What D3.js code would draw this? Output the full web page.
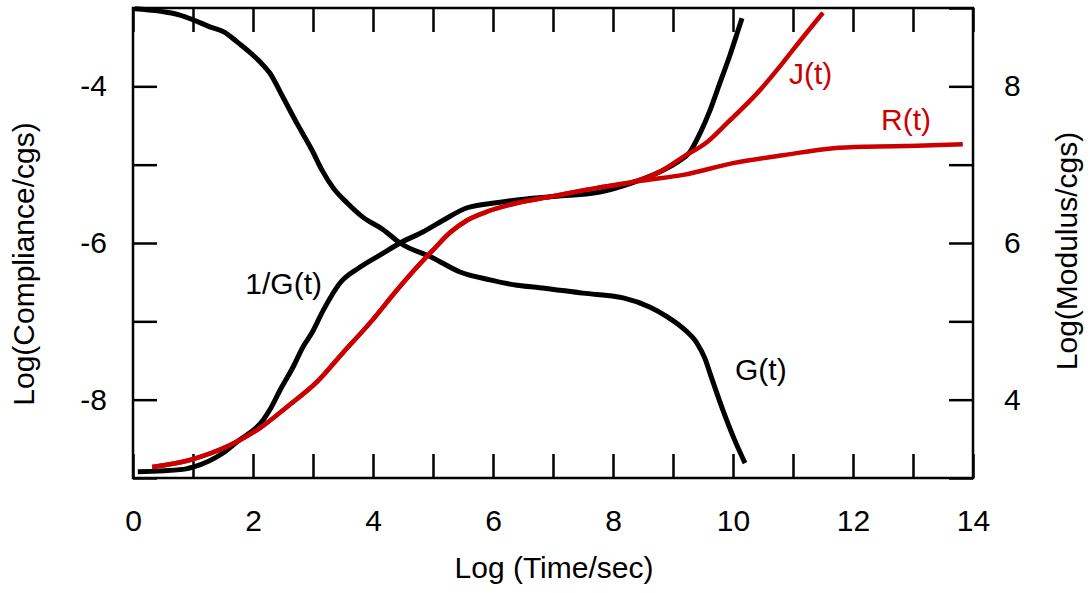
<!DOCTYPE html>
<html>
<head>
<meta charset="utf-8">
<script src="https://cdn.jsdelivr.net/npm/d3@7"></script>
<style>
  html, body { margin: 0; padding: 0; background: #fff; }
  svg { display: block; }
  text { font-family: "Liberation Sans", Arial, Helvetica, sans-serif; }
</style>
</head>
<body>
<svg id="chart" width="1090" height="593"></svg>
<script>
// ---- Data ----
const xTicks = [0,1,2,3,4,5,6,7,8,9,10,11,12,13,14];
const xTickLabels = [0,2,4,6,8,10,12,14];
const leftTicks = [-9,-8,-7,-6,-5,-4,-3];
const leftTickLabels = [-8,-6,-4];
const rightTicks = [3,4,5,6,7,8,9];
const rightTickLabels = [4,6,8];

// G(t): modulus, right axis
const gTime   = [0.03,0.78,1.0,1.28,1.53,1.73,2.12,2.28,2.5,2.73,2.98,3.15,3.33,3.57,3.83,4.17,4.45,5.0,5.45,5.95,6.4,6.78,7.5,8.17,8.62,8.9,9.17,9.4,9.53,9.62,9.83,10.03,10.2];
const gValues = [8.99,8.91,8.85,8.76,8.69,8.57,8.31,8.17,7.86,7.53,7.19,6.93,6.71,6.51,6.33,6.17,6.0,5.81,5.63,5.53,5.46,5.43,5.36,5.30,5.18,5.06,4.91,4.72,4.53,4.33,3.87,3.48,3.19];

// 1/G(t): left axis
const invGTime   = [0.08,0.83,1.0,1.5,1.73,2.17,2.28,2.45,2.67,2.83,2.98,3.17,3.45,3.78,4.17,4.45,4.83,5.17,5.57,6.12,6.4,6.95,7.78,8.33,8.73,9.07,9.28,9.45,9.62,9.78,9.95,10.07,10.15];
const invGValues = [-8.92,-8.89,-8.86,-8.68,-8.54,-8.26,-8.13,-7.88,-7.58,-7.33,-7.15,-6.86,-6.51,-6.31,-6.13,-6.0,-5.86,-5.71,-5.55,-5.48,-5.45,-5.41,-5.35,-5.23,-5.11,-4.97,-4.84,-4.60,-4.30,-3.96,-3.60,-3.32,-3.13];

// J(t): compliance, left axis
const jTime   = [0.32,0.95,1.62,2.12,2.57,3.07,3.5,3.95,4.4,4.73,5.0,5.28,5.57,5.9,6.4,6.95,7.78,8.33,8.78,9.17,9.57,9.9,10.4,10.83,11.17,11.5];
const jValues = [-8.86,-8.77,-8.58,-8.36,-8.09,-7.77,-7.40,-7.02,-6.60,-6.31,-6.09,-5.87,-5.71,-5.60,-5.49,-5.41,-5.29,-5.22,-5.09,-4.90,-4.71,-4.47,-4.09,-3.70,-3.37,-3.06];

// R(t): left axis
const rTime   = [0.32,0.95,1.62,2.12,2.57,3.07,3.5,3.95,4.4,4.73,5.0,5.28,5.57,5.9,6.4,6.95,7.78,8.33,8.62,9.17,10.0,10.83,11.67,12.23,13.07,13.83];
const rValues = [-8.86,-8.77,-8.58,-8.36,-8.09,-7.77,-7.40,-7.02,-6.60,-6.31,-6.09,-5.87,-5.71,-5.60,-5.49,-5.41,-5.29,-5.22,-5.19,-5.13,-4.98,-4.88,-4.79,-4.77,-4.76,-4.74];

// ---- Layout ----
const svg = d3.select("#chart");
const L = 133, R = 973, T = 8, B = 478;
const FS = 30;
const red = "#cc0000";

const x = d3.scaleLinear().domain([0,14]).range([L,R]);
const yL = d3.scaleLinear().domain([-9,-3]).range([B,T]);
const yR = d3.scaleLinear().domain([3,9]).range([B,T]);

const fmtX = d => xTickLabels.includes(d) ? String(d) : "";
const fmtL = d => leftTickLabels.includes(d) ? String(d) : "";
const fmtR = d => rightTickLabels.includes(d) ? String(d) : "";

function styleAxis(g) {
  g.select(".domain").remove();
  g.selectAll(".tick line").attr("stroke","#000").attr("stroke-width",2.5);
  g.selectAll(".tick text").attr("fill","#000").style("font-size", FS + "px")
    .style("font-family", '"Liberation Sans", Arial, sans-serif');
}

svg.append("g").attr("transform",`translate(0,${B})`)
  .call(d3.axisBottom(x).tickValues(xTicks).tickFormat(fmtX).tickSize(-24).tickPadding(32))
  .call(styleAxis);
svg.append("g").attr("transform",`translate(0,${T})`)
  .call(d3.axisTop(x).tickValues(xTicks).tickFormat(() => "").tickSize(-24))
  .call(styleAxis);
svg.append("g").attr("transform",`translate(${L},0)`)
  .call(d3.axisLeft(yL).tickValues(leftTicks).tickFormat(fmtL).tickSize(-24).tickPadding(26))
  .call(styleAxis);
svg.append("g").attr("transform",`translate(${R},0)`)
  .call(d3.axisRight(yR).tickValues(rightTicks).tickFormat(fmtR).tickSize(-24).tickPadding(31))
  .call(styleAxis);

// ---- Curves ----
function pts(t, v) { return t.map((d,i) => [d, v[i]]); }
const lineL = d3.line().x(d => x(d[0])).y(d => yL(d[1])).curve(d3.curveMonotoneX);
const lineR = d3.line().x(d => x(d[0])).y(d => yR(d[1])).curve(d3.curveMonotoneX);

svg.append("path").datum(pts(gTime,gValues)).attr("d",lineR)
  .attr("fill","none").attr("stroke","#000").attr("stroke-width",5);
svg.append("path").datum(pts(invGTime,invGValues)).attr("d",lineL)
  .attr("fill","none").attr("stroke","#000").attr("stroke-width",5);
svg.append("path").datum(pts(rTime,rValues)).attr("d",lineL)
  .attr("fill","none").attr("stroke",red).attr("stroke-width",4.5);
svg.append("path").datum(pts(jTime,jValues)).attr("d",lineL)
  .attr("fill","none").attr("stroke",red).attr("stroke-width",4.5);

// ---- Frame ----
svg.append("rect").attr("x",L).attr("y",T).attr("width",R-L).attr("height",B-T)
  .attr("fill","none").attr("stroke","#000").attr("stroke-width",2.5);

// ---- Labels ----
const txt = (s, xx, yy, opts = {}) => svg.append("text")
  .attr("x", xx).attr("y", yy).attr("text-anchor", opts.anchor || "start")
  .attr("fill", opts.fill || "#000").style("font-size", FS + "px")
  .attr("transform", opts.rot ? `rotate(-90,${xx},${yy})` : null).text(s);

txt("Log (Time/sec)", (L+R)/2 + 1, 578, {anchor:"middle"});
txt("Log(Compliance/cgs)", 34, 264, {anchor:"middle", rot:true});
txt("Log(Modulus/cgs)", 1077, 251, {anchor:"middle", rot:true});
txt("1/G(t)", 322, 294, {anchor:"end"});
txt("G(t)", 735, 380);
txt("J(t)", 789, 84, {fill:red});
txt("R(t)", 881, 130, {fill:red});
</script>
</body>
</html>
